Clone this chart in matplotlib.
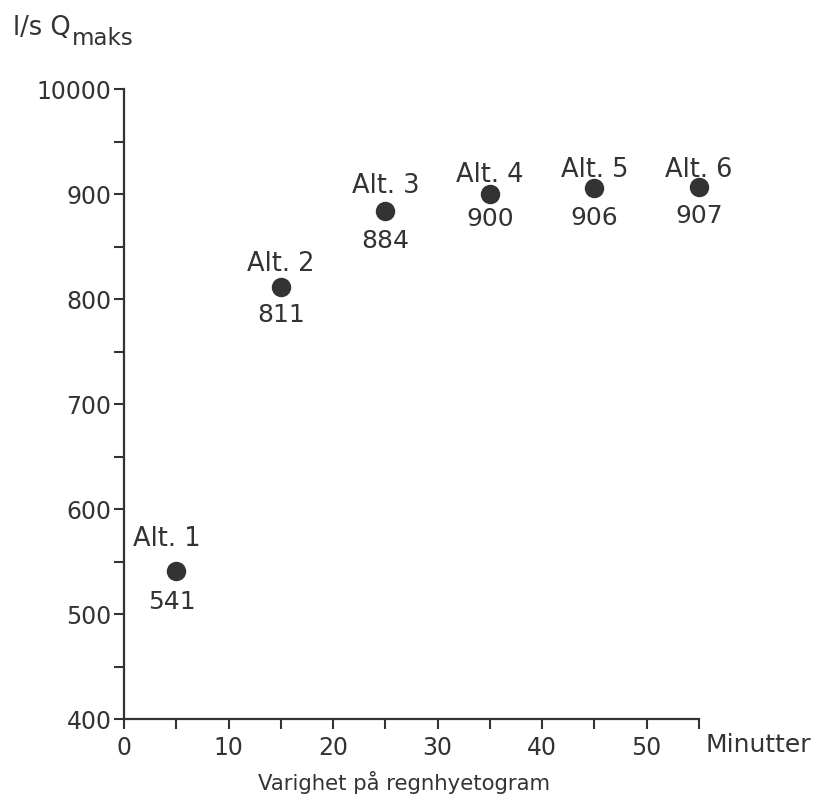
import matplotlib
matplotlib.use("Agg")
import matplotlib.pyplot as plt

# Data
durations = [5, 15, 25, 35, 45, 55]          # minutes
qmax = [541, 811, 884, 900, 906, 907]        # l/s
alt_labels = ["Alt. 1", "Alt. 2", "Alt. 3", "Alt. 4", "Alt. 5", "Alt. 6"]
value_labels = ["541", "811", "884", "900", "906", "907"]
y_ticks = [400, 500, 600, 700, 800, 900, 1000]
y_ticklabels = ["400", "500", "600", "700", "800", "900", "10000"]
x_ticks = [0, 10, 20, 30, 40, 50]
x_ticklabels = ["0", "10", "20", "30", "40", "50"]

plt.rcParams['font.family'] = ['DejaVu Sans']
ink = '#333333'
W = 'normal'

fig = plt.figure(figsize=(8.14, 7.96), dpi=100)
ax = fig.add_axes([124/814, 1-719/796, (699-124)/814, (719-89)/796])

ax.plot(durations, qmax, 'o', color='#333333', markersize=13, clip_on=False)

# label offsets (points)
above_dx = [-7, 0, 0, 0, 0, 0]
above_dy = [23, 17, 18, 14, 13, 12]
below_dy = [-22, -20, -22, -18, -22, -21]
below_dx = [-3, 0, 0, 0, 0, 0]
for x, y, a, v, adx, ady, bdx, bdy in zip(durations, qmax, alt_labels, value_labels,
                                           above_dx, above_dy, below_dx, below_dy):
    ax.annotate(a, (x, y), xytext=(adx, ady), textcoords='offset points',
                ha='center', va='center', fontsize=18.5, color=ink, fontweight=W)
    ax.annotate(v, (x, y), xytext=(bdx, bdy), textcoords='offset points',
                ha='center', va='center', fontsize=18, color=ink, fontweight=W)

ax.set_xlim(0, 55)
ax.set_ylim(400, 1000)
ax.set_yticks(y_ticks)
ax.set_yticklabels(y_ticklabels, fontweight=W)
ax.set_yticks([450, 550, 650, 750, 850, 950], minor=True)
ax.set_xticks(x_ticks)
ax.set_xticklabels(x_ticklabels, fontweight=W)
ax.set_xticks([5, 15, 25, 35, 45, 55], minor=True)

for s in ['top', 'right']:
    ax.spines[s].set_visible(False)
for s in ['left', 'bottom']:
    ax.spines[s].set_linewidth(1.6)
    ax.spines[s].set_color(ink)

ax.tick_params(axis='both', which='major', length=7, width=1.5, color=ink,
               labelsize=17, labelcolor=ink, direction='out')
ax.tick_params(axis='both', which='minor', length=7, width=1.5, color=ink,
               direction='out')
ax.tick_params(axis='y', pad=2)
ax.tick_params(axis='x', pad=5)

fig.text(705/814, 1-745/796, "Minutter", fontsize=18, color=ink, ha='left', va='center',
         fontweight=W)
fig.text(404/814, 1-782/796, "Varighet på regnhyetogram", fontsize=15.3, color=ink,
         ha='center', va='center', fontweight=W)
fig.text(13/814, 1-35/796, "l/s Q", fontsize=18.5, color=ink, ha='left', va='baseline',
         fontweight=W)
fig.text(72/814, 1-45/796, "maks", fontsize=16.5, color=ink, ha='left', va='baseline',
         fontweight=W)

fig.savefig("out.png", dpi=100, facecolor='white')
